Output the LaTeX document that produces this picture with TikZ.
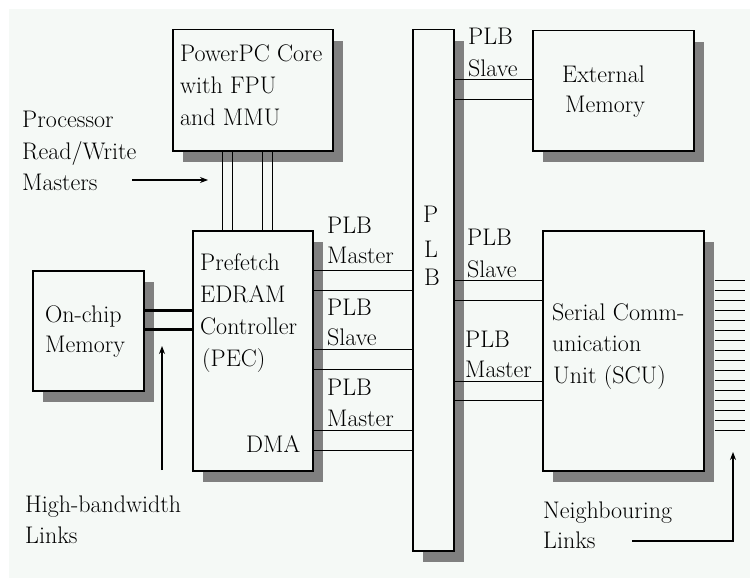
\documentclass[tikz,border=0pt]{standalone}
\usetikzlibrary{arrows.meta,shadows,calc}
\definecolor{bgc}{RGB}{245,249,246}
\definecolor{shc}{RGB}{128,128,128}
\begin{document}
\begin{tikzpicture}[x=1pt,y=-1pt,
  box/.style={draw, line width=1.5pt, fill=bgc, inner sep=0, anchor=north west,
    general shadow={fill=shc, shadow xshift=10pt, shadow yshift=-11pt}},
  lbl/.style={anchor=base west, inner sep=0, font=\fontsize{24}{28}\selectfont},
  wire/.style={line width=1pt},
  thickwire/.style={line width=3pt},
  arr/.style={line width=1.1pt, -{Stealth[length=8pt,width=6pt]}}]
\useasboundingbox (0,0) rectangle (750,578);
\fill[white] (0,0) rectangle (750,578);
\fill[bgc] (9,9) rectangle (750,578);
% boxes
\node[box, minimum width=160pt, minimum height=121pt] (ppc) at (172,29) {};
\node[box, minimum width=120pt, minimum height=240pt] (pec) at (192,230) {};
\node[box, minimum width=111pt, minimum height=120pt] (ocm) at (32,270) {};
\node[box, minimum width=41pt, minimum height=521pt] (plb) at (412,29) {};
\node[box, minimum width=161pt, minimum height=120pt] (ext) at (532,30) {};
\node[box, minimum width=161pt, minimum height=240pt] (scu) at (542,230) {};
% texts
\node[lbl] (t1) at (180,62) {PowerPC Core};
\node[lbl] (t2) at (180,93) {with FPU};
\node[lbl] (t3) at (180,125) {and MMU};
\node[lbl] (t4) at (22,128) {Processor};
\node[lbl] (t5) at (22,159) {Read/Write};
\node[lbl] (t6) at (22,190) {Masters};
\node[lbl] (t7) at (200,270) {Prefetch};
\node[lbl] (t8) at (200,302) {EDRAM};
\node[lbl] (t9) at (200,334) {Controller};
\node[lbl] (t10) at (202,366) {(PEC)};
\node[lbl] (t11) at (246,452) {DMA};
\node[lbl] (t12) at (45,322) {On-chip};
\node[lbl] (t13) at (45,352) {Memory};
\node[lbl] (t14) at (25,512) {High-bandwidth};
\node[lbl] (t15) at (25,543) {Links};
\node[lbl] (t16) at (327,233) {PLB};
\node[lbl] (t17) at (327,263) {Master};
\node[lbl] (t18) at (327,315) {PLB};
\node[lbl] (t19) at (327,345) {Slave};
\node[lbl] (t20) at (327,395) {PLB};
\node[lbl] (t21) at (327,426) {Master};
\node[lbl] (t22) at (468,45) {PLB};
\node[lbl] (t23) at (468,77) {Slave};
\node[lbl] (t24) at (562,83) {External};
\node[lbl] (t25) at (565,113) {Memory};
\node[lbl] (t26) at (423,222) {P};
\node[lbl] (t27) at (424,257) {L};
\node[lbl] (t28) at (424,285) {B};
\node[lbl] (t29) at (467,245) {PLB};
\node[lbl] (t30) at (467,277) {Slave};
\node[lbl] (t31) at (465,347) {PLB};
\node[lbl] (t32) at (465,377) {Master};
\node[lbl] (t33) at (552,320) {Serial Comm-};
\node[lbl] (t34) at (552,351) {unication};
\node[lbl] (t35) at (553,383) {Unit (SCU)};
\node[lbl] (t36) at (543,518) {Neighbouring};
\node[lbl] (t37) at (543,548) {Links};
% PowerPC to PEC
\foreach \xx in {222,232,262,272}
  \draw[wire] (ppc.south -| \xx,0) -- (pec.north -| \xx,0);
% On-chip to PEC
\foreach \yy in {310,329}
  \draw[thickwire] (ocm.east |- 0,\yy) -- (pec.west |- 0,\yy);
% PEC to PLB
\foreach \yy in {270,290,349,369,430,450}
  \draw[wire] (pec.east |- 0,\yy) -- (plb.west |- 0,\yy);
% PLB to External
\foreach \yy in {80,99}
  \draw[wire] (plb.east |- 0,\yy) -- (ext.west |- 0,\yy);
% PLB to SCU
\foreach \yy in {280,300,381,400}
  \draw[wire] (plb.east |- 0,\yy) -- (scu.west |- 0,\yy);
% neighbouring links
\foreach \k in {0,...,15}
  \draw[wire] ($(scu.north east)+(10,50+10*\k)$) -- ($(scu.north east)+(40,50+10*\k)$);
% arrows
\coordinate (pa1) at (132,180);
\coordinate (pa2) at (208,180);
\draw[arr] (pa1) -- (pa2);
\coordinate (ha1) at (162,470);
\coordinate (ha2) at (162,346);
\draw[arr] (ha1) -- (ha2);
\coordinate (na1) at (632,541);
\coordinate (na2) at (733,452);
\draw[arr] (na1) -| (na2);
\end{tikzpicture}
\end{document}
